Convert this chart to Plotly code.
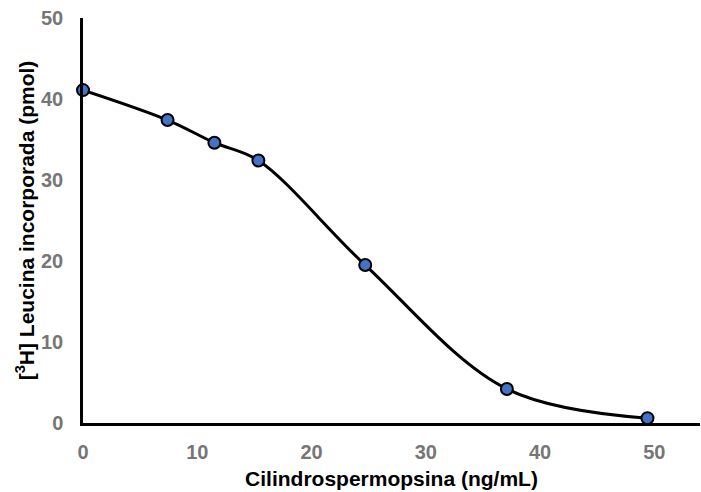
import plotly.graph_objects as go

x_vals = [0, 7.4, 11.5, 15.35, 24.7, 37.1, 49.4]
y_vals = [41.1, 37.4, 34.6, 32.4, 19.5, 4.2, 0.6]
x_ticks = [0, 10, 20, 30, 40, 50]
y_ticks = [0, 10, 20, 30, 40, 50]

fig = go.Figure()
fig.add_trace(go.Scatter(
    x=x_vals, y=y_vals, mode="lines+markers",
    line=dict(color="black", width=3, shape="spline", smoothing=1.0),
    marker=dict(size=12, color="#4472C4", line=dict(color="black", width=2)),
    cliponaxis=False, showlegend=False,
))

font_family = "Liberation Sans, Arial, sans-serif"
fig.update_layout(
    width=701, height=492,
    margin=dict(l=83, r=1, t=18, b=69),
    plot_bgcolor="white", paper_bgcolor="white",
    font=dict(family=font_family),
    xaxis=dict(
        range=[0, 54], tickvals=x_ticks, showgrid=False, zeroline=False,
        showline=True, linecolor="black", linewidth=2.5, automargin=False,
        tickfont=dict(size=20, color="#767676", family=font_family, weight="bold"),
        ticklabelstandoff=9,
        title=dict(text="<b>Cilindrospermopsina (ng/mL)</b>",
                   font=dict(size=21, color="black"), standoff=10),
    ),
    yaxis=dict(
        range=[0, 50], tickvals=y_ticks, showgrid=False, zeroline=False,
        showline=True, linecolor="black", linewidth=2.5, automargin=False,
        tickfont=dict(size=20, color="#767676", family=font_family, weight="bold"),
        ticklabelstandoff=13,
        title=dict(text="<b>[<sup>3</sup>H] Leucina incorporada (pmol)</b>",
                   font=dict(size=21, color="black"), standoff=1),
    ),
)
fig.write_html("out.html", config={"displayModeBar": False},
               post_script="document.body.style.margin='0px';")
